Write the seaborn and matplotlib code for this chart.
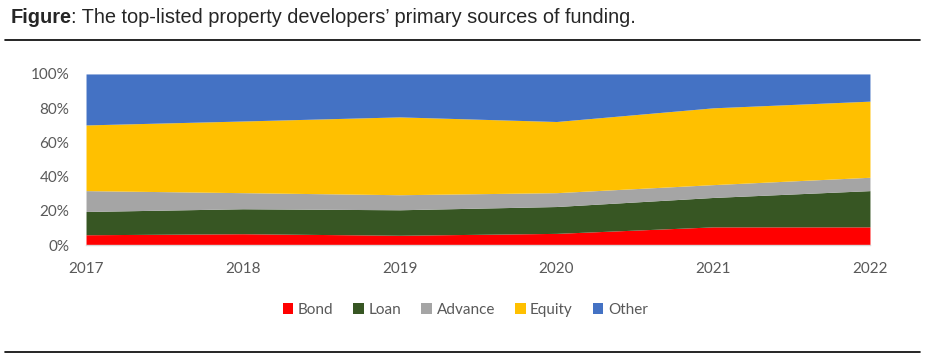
import matplotlib
matplotlib.use("Agg")
import matplotlib.pyplot as plt
import matplotlib.ticker as mtick
from matplotlib.patches import Patch
from matplotlib.lines import Line2D
import seaborn as sns
import pandas as pd

# values (share of funding, %)
years = [2017, 2018, 2019, 2020, 2021, 2022]
bond = [6.0, 6.6, 5.7, 6.8, 10.6, 10.6]
loan = [13.6, 14.6, 14.9, 15.7, 17.2, 21.2]
advance = [12.2, 9.4, 8.8, 8.1, 7.5, 7.8]
equity = [38.4, 41.9, 45.5, 41.6, 44.9, 44.5]
other = [29.8, 27.5, 25.1, 27.8, 19.8, 15.9]

series = ["Bond", "Loan", "Advance", "Equity", "Other"]
colors = ["#ff0000", "#375623", "#a5a5a5", "#ffc000", "#4472c4"]

df = pd.DataFrame({"Bond": bond, "Loan": loan, "Advance": advance,
                   "Equity": equity, "Other": other}, index=years)
df = df.div(df.sum(axis=1), axis=0) * 100

sns.set_style("white")
plt.rcParams["font.family"] = ["Lato", "DejaVu Sans"]

fig = plt.figure(figsize=(9.25, 3.59), dpi=100)
ax = fig.add_axes([0.093, 0.3175, 0.8475, 0.4765])

ax.stackplot(df.index, [df[s] for s in series], colors=colors,
             labels=series, linewidth=0)

ax.set_xlim(2017, 2022)
ax.set_ylim(0, 100)
ax.set_xticks(years)
ax.set_yticks(range(0, 101, 20))
ax.yaxis.set_major_formatter(mtick.PercentFormatter(decimals=0))
ax.tick_params(axis="both", labelsize=11, colors="#595959")
ax.tick_params(axis="x", length=4, color="#d9d9d9", direction="out", pad=8)
ax.tick_params(axis="y", length=0, pad=12)
for side in ["top", "right", "left"]:
    ax.spines[side].set_visible(False)
ax.spines["bottom"].set_color("#d9d9d9")
ax.spines["bottom"].set_linewidth(1)

handles = [Patch(facecolor=c, edgecolor="none") for c in colors]
fig.legend(handles, series, loc="center", bbox_to_anchor=(0.503, 0.136),
           ncol=5, frameon=False, fontsize=11, handlelength=0.7,
           handleheight=0.7, handletextpad=0.3, columnspacing=1.3,
           labelcolor="#595959")

# title: bold "Figure" followed directly by the rest
t1 = fig.text(0.011, 0.952, "Figure", fontsize=14.4, fontweight="bold",
              family="Liberation Sans", va="center")
fig.canvas.draw()
bb = t1.get_window_extent().transformed(fig.transFigure.inverted())
fig.text(bb.x1, 0.952, ": The top-listed property developers\u2019 primary sources of funding.",
         fontsize=14.4, family="Liberation Sans", va="center")

# horizontal rules
fig.add_artist(Line2D([0.005, 0.995], [0.889, 0.889], color="black", lw=1.2))
fig.add_artist(Line2D([0.005, 0.995], [0.019, 0.019], color="black", lw=1.2))

fig.savefig("out.png", dpi=100)
